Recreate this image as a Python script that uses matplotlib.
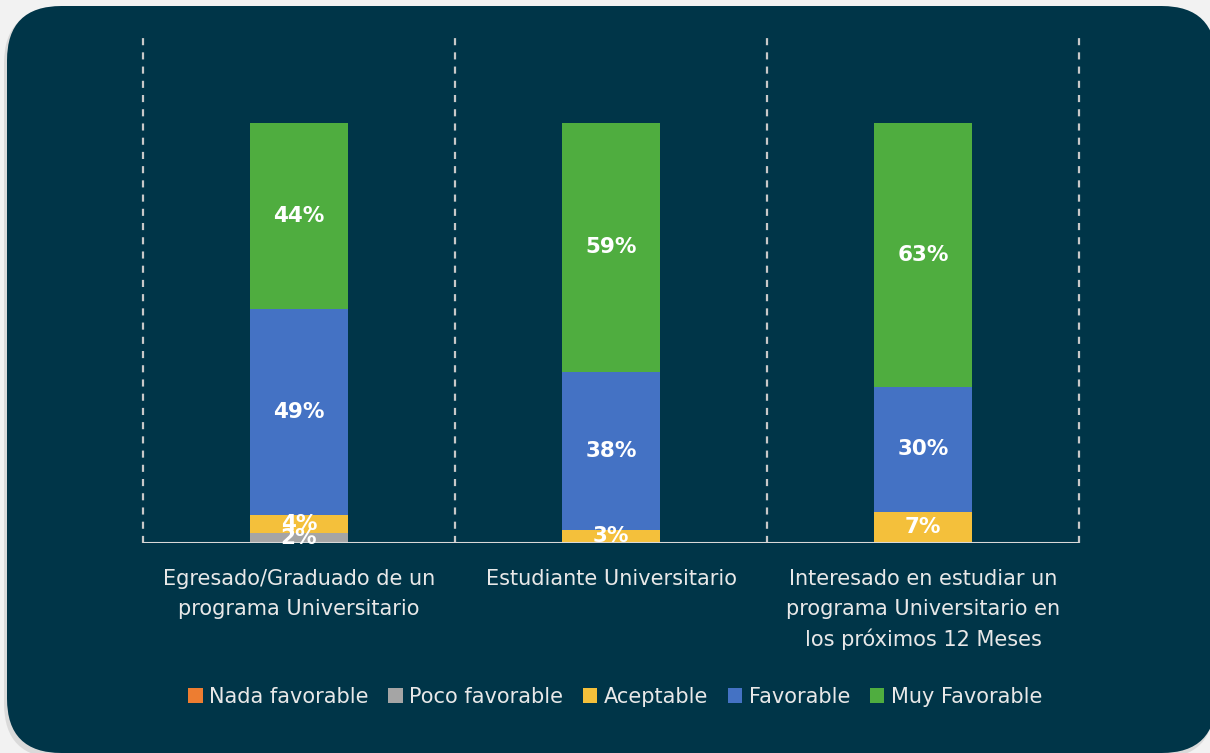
import matplotlib.pyplot as plt
import numpy as np
from matplotlib.patches import FancyBboxPatch

categories = ["Egresado/Graduado de un\nprograma Universitario",
              "Estudiante Universitario",
              "Interesado en estudiar un\nprograma Universitario en\nlos próximos 12 Meses"]
series = ["Nada favorable", "Poco favorable", "Aceptable", "Favorable", "Muy Favorable"]
nada = [0.0, 0.0, 0.0]
poco = [2.4, 0.0, 0.0]
aceptable = [4.3, 3.1, 7.4]
favorable = [49.0, 37.6, 29.8]
muy_favorable = [44.3, 59.3, 62.8]
colors = ["#ed7d31", "#a5a5a5", "#f4c03b", "#4472c4", "#4fad3f"]

bg = "#003548"
plt.rcParams['font.family'] = ['DejaVu Sans']

fig = plt.figure(figsize=(12.1, 7.53), dpi=100)
fig.patch.set_facecolor("#f2f2f2")

W, H = 1210, 753
def box(x0, y0, x1, y1, **kw):
    return FancyBboxPatch((x0 / W, 1 - y1 / H), (x1 - x0) / W, (y1 - y0) / H,
                          boxstyle="round,pad=0,rounding_size=0.045",
                          transform=fig.transFigure, mutation_aspect=W / H,
                          zorder=-5, **kw)

fig.patches.append(box(4, 9, 1214, 758, facecolor="#c4c4c4", edgecolor="none", alpha=0.5))
fig.patches.append(box(7, 6, 1216, 753, facecolor=bg, edgecolor="none"))

ax = fig.add_axes([143 / W, 1 - 543 / H, (1079 - 143) / W, (543 - 38) / H])
ax.set_facecolor("none")

x = np.arange(len(categories))
data = [nada, poco, aceptable, favorable, muy_favorable]
bottom = np.zeros(len(categories))
for name, vals, c in zip(series, data, colors):
    vals = np.array(vals)
    ax.bar(x, vals, 0.314, bottom=bottom, color=c, label=name)
    for xi, v, b in zip(x, vals, bottom):
        if v > 0:
            ax.text(xi, b + v / 2, f"{v:.0f}%", ha="center", va="center",
                    color="white", fontsize=15.5, fontweight="bold")
    bottom += vals

ax.set_xlim(-0.5, 2.5)
ax.set_ylim(0, 120.2)
for xv in [-0.5, 0.5, 1.5, 2.5]:
    ax.axvline(xv, color="#c8c8c8", lw=1.6, ls=(0, (3.2, 3.2)), clip_on=False)
ax.axhline(0, color="#d9d9d9", lw=1.5)
for s in ax.spines.values():
    s.set_visible(False)
ax.set_yticks([])
ax.set_xticks(x)
ax.set_xticklabels(categories, color="#e8e8e8", fontsize=15, linespacing=1.58)
ax.tick_params(axis="x", length=0, pad=19)

leg = fig.legend(loc="center", bbox_to_anchor=(615 / W, 1 - 697 / H), ncol=5,
                 frameon=False, fontsize=15, handlelength=0.7, handleheight=0.7,
                 handletextpad=0.3, columnspacing=0.95)
for t in leg.get_texts():
    t.set_color("#e8e8e8")

fig.savefig("out.png", dpi=100, facecolor=fig.get_facecolor())
